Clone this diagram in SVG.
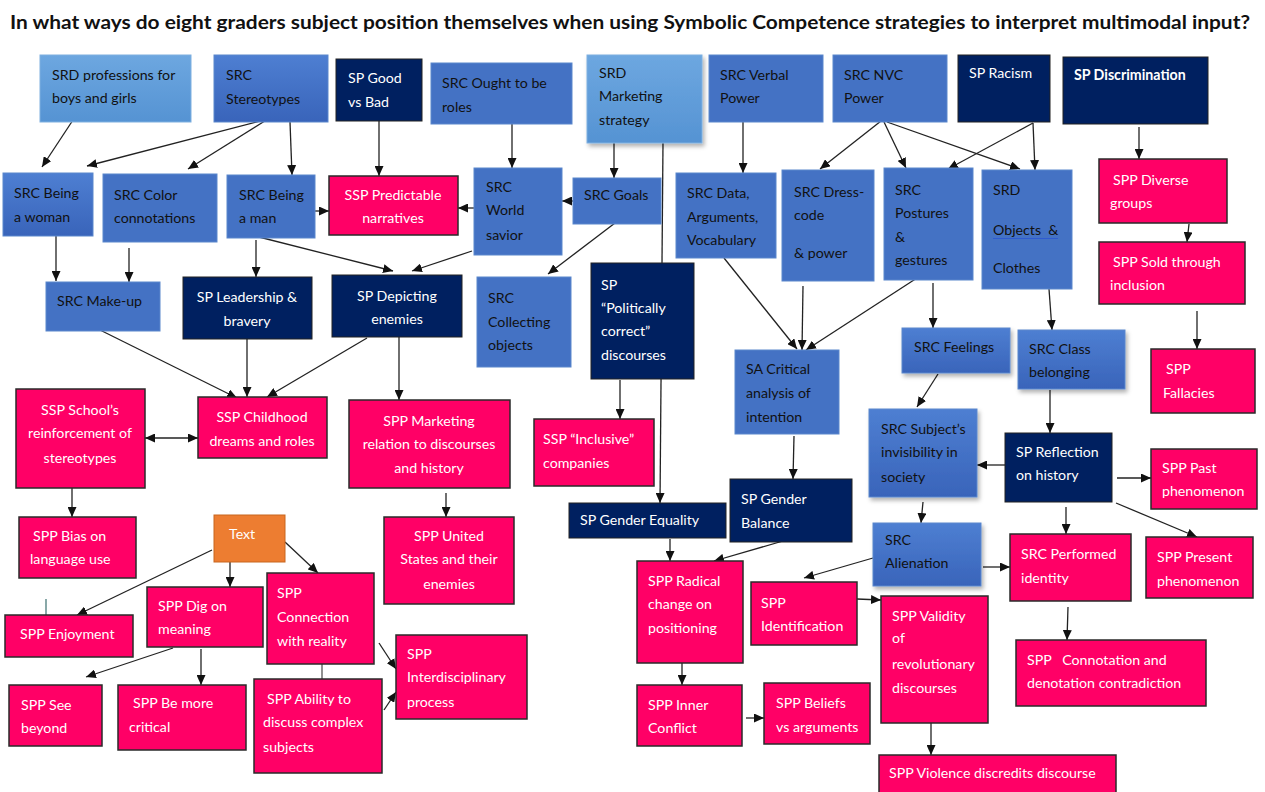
<svg xmlns="http://www.w3.org/2000/svg" width="1265" height="792" viewBox="0 0 1265 792">
<defs>
<style>
text{font-family:Lato,"Open Sans","Liberation Sans",sans-serif;font-size:14.2px}
.title{font-weight:bold;font-size:19px;fill:#111}
.d{fill:#111}
.w{fill:#fff}
.c{text-anchor:middle}
.blue{fill:#4472C4;stroke:#5B87CC;stroke-width:1}
.bg{fill:url(#gBlue);stroke:#5B87CC;stroke-width:1}
.lt{fill:url(#gLight);stroke:#7FB0E0;stroke-width:1}
.navy{fill:#002060;stroke:#222;stroke-width:1}
.pink{fill:#FF0066;stroke:#2a2a2a;stroke-width:1.5}
.orange{fill:#ED7D31;stroke:#C8661F;stroke-width:1}
.sh{filter:url(#shadow)}
#connectors line{stroke:#222;stroke-width:1.3;marker-end:url(#arr)}
#connectors line.plain{marker-end:none;stroke:#555}
#connectors line.both{marker-start:url(#arr)}
</style>
<linearGradient id="gBlue" x1="0" y1="0" x2="0" y2="1">
<stop offset="0" stop-color="#4E7FD2"/><stop offset="1" stop-color="#3964BA"/>
</linearGradient>
<linearGradient id="gLight" x1="0" y1="0" x2="0" y2="1">
<stop offset="0" stop-color="#6DA7E0"/><stop offset="1" stop-color="#5593D3"/>
</linearGradient>
<filter id="shadow" x="-10%" y="-10%" width="130%" height="130%">
<feDropShadow dx="2" dy="3" stdDeviation="2" flood-color="#000" flood-opacity="0.3"/>
</filter>
<marker id="arr" markerUnits="userSpaceOnUse" markerWidth="10" markerHeight="9" refX="10" refY="4.5" orient="auto-start-reverse">
<path d="M0,0 L10,4.5 L0,9 z" fill="#111"/>
</marker>
</defs>
<rect width="1265" height="792" fill="#fff"/>
<text class="title" x="10" y="29" textLength="1240" lengthAdjust="spacingAndGlyphs">In what ways do eight graders subject position themselves when using Symbolic Competence strategies to interpret multimodal input?</text>

<g id="connectors">
<line x1="73" y1="120" x2="42" y2="167"/>
<line x1="268" y1="119" x2="87" y2="166"/>
<line x1="268" y1="119" x2="188" y2="169"/>
<line x1="290" y1="122" x2="292" y2="175"/>
<line x1="56" y1="236" x2="56" y2="281"/>
<line x1="129" y1="248" x2="129" y2="282"/>
<line x1="315" y1="211" x2="329" y2="211"/>
<line x1="255" y1="236" x2="393" y2="271"/>
<line x1="256" y1="240" x2="256" y2="277"/>
<line x1="379" y1="121" x2="379" y2="176"/>
<line x1="512" y1="124" x2="512" y2="168"/>
<line x1="614" y1="143" x2="614" y2="178"/>
<line x1="573" y1="201" x2="562" y2="201"/>
<line x1="474" y1="208" x2="458" y2="208"/>
<line x1="472" y1="251" x2="412" y2="271"/>
<line x1="615" y1="223" x2="548" y2="274"/>
<line x1="663" y1="143" x2="660" y2="503"/>
<line x1="743" y1="122" x2="743" y2="173"/>
<line x1="881" y1="121" x2="820" y2="169"/>
<line x1="884" y1="122" x2="906" y2="168"/>
<line x1="887" y1="122" x2="1020" y2="169"/>
<line x1="1033" y1="123" x2="948" y2="169"/>
<line x1="1033" y1="123" x2="1035" y2="170"/>
<line x1="1139" y1="127" x2="1139" y2="159"/>
<line x1="1189" y1="224" x2="1187" y2="242"/>
<line x1="1197" y1="311" x2="1197" y2="349"/>
<line x1="1049" y1="289" x2="1052" y2="330"/>
<line x1="724" y1="258" x2="797" y2="349"/>
<line x1="803" y1="286" x2="802" y2="350"/>
<line x1="917" y1="278" x2="806" y2="350"/>
<line x1="933" y1="283" x2="933" y2="328"/>
<line x1="938" y1="374" x2="917" y2="407"/>
<line x1="794" y1="436" x2="793" y2="479"/>
<line x1="923" y1="502" x2="921" y2="523"/>
<line x1="1050" y1="390" x2="1050" y2="433"/>
<line x1="1005" y1="465" x2="977" y2="465"/>
<line x1="1117" y1="478" x2="1151" y2="478"/>
<line x1="1116" y1="503" x2="1197" y2="537"/>
<line x1="1066" y1="507" x2="1066" y2="534"/>
<line x1="983" y1="567" x2="1010" y2="567"/>
<line x1="873" y1="558" x2="804" y2="578"/>
<line x1="1068" y1="607" x2="1067" y2="640"/>
<line x1="620" y1="380" x2="620" y2="419"/>
<line x1="399" y1="337" x2="399" y2="400"/>
<line x1="367" y1="338" x2="267" y2="397"/>
<line x1="247" y1="339" x2="247" y2="397"/>
<line x1="98" y1="329" x2="237" y2="398"/>
<line class="both" x1="145" y1="438" x2="198" y2="438"/>
<line x1="72" y1="488" x2="72" y2="517"/>
<line x1="446" y1="493" x2="446" y2="517"/>
<line x1="670" y1="539" x2="670" y2="561"/>
<line x1="783" y1="541" x2="714" y2="561"/>
<line x1="682" y1="663" x2="682" y2="685"/>
<line x1="746" y1="718" x2="764" y2="718"/>
<line x1="857" y1="599" x2="881" y2="600"/>
<line x1="931" y1="723" x2="931" y2="755"/>
<line x1="212" y1="550" x2="77" y2="615"/>
<line x1="230" y1="562" x2="230" y2="587"/>
<line x1="285" y1="542" x2="318" y2="573"/>
<line x1="173" y1="648" x2="86" y2="677"/>
<line x1="201" y1="649" x2="201" y2="685"/>
<line x1="379" y1="643" x2="396" y2="669"/>
<line x1="384" y1="710" x2="396" y2="692"/>
<line class="plain" x1="322" y1="664" x2="322" y2="679"/>
<line class="plain" x1="46" y1="599" x2="46" y2="621" style="stroke:#4a7a7a"/>
</g>

<g id="srd-professions"><rect class="lt" x="40" y="55" width="151" height="67"/><text class="d" x="52" y="80">SRD professions for</text><text class="d" x="52" y="103">boys and girls</text></g>
<g id="src-stereotypes"><rect class="bg" x="214" y="55" width="114" height="67"/><text class="d" x="226" y="80">SRC</text><text class="d" x="226" y="104">Stereotypes</text></g>
<g id="sp-good-bad"><rect class="navy" x="336" y="59" width="86" height="62"/><text class="w" x="348" y="83">SP Good</text><text class="w" x="348" y="107">vs Bad</text></g>
<g id="src-ought"><rect class="blue" x="431" y="63" width="141" height="61"/><text class="d" x="442" y="88">SRC Ought to be</text><text class="d" x="442" y="112">roles</text></g>
<g id="srd-marketing"><rect class="lt sh" x="587" y="55" width="115" height="88"/><text class="d" x="599" y="78">SRD</text><text class="d" x="599" y="101">Marketing</text><text class="d" x="599" y="125">strategy</text></g>
<g id="src-verbal"><rect class="blue" x="709" y="55" width="114" height="67"/><text class="d" x="720" y="80">SRC Verbal</text><text class="d" x="720" y="103">Power</text></g>
<g id="src-nvc"><rect class="blue" x="833" y="55" width="114" height="67"/><text class="d" x="844" y="80">SRC NVC</text><text class="d" x="844" y="103">Power</text></g>
<g id="sp-racism"><rect class="navy" x="958" y="55" width="92" height="67"/><text class="w" x="969" y="78">SP Racism</text></g>
<g id="sp-discrimination"><rect class="navy" x="1063" y="57" width="145" height="67"/><text class="w" x="1074" y="80" style="font-weight:bold">SP Discrimination</text></g>

<g id="src-woman"><rect class="bg" x="3" y="173" width="90" height="63"/><text class="d" x="14" y="198">SRC Being</text><text class="d" x="14" y="222">a woman</text></g>
<g id="src-color"><rect class="blue" x="103" y="174" width="114" height="68"/><text class="d" x="114" y="200">SRC Color</text><text class="d" x="114" y="223">connotations</text></g>
<g id="src-man"><rect class="blue" x="227" y="175" width="88" height="63"/><text class="d" x="239" y="200">SRC Being</text><text class="d" x="239" y="223">a man</text></g>
<g id="ssp-predictable"><rect class="pink" x="329" y="176" width="129" height="59"/><text class="w c" x="393" y="200">SSP Predictable</text><text class="w c" x="393" y="223">narratives</text></g>
<g id="src-world"><rect class="blue" x="474" y="168" width="88" height="87"/><text class="d" x="486" y="192">SRC</text><text class="d" x="486" y="215">World</text><text class="d" x="486" y="240">savior</text></g>
<g id="src-goals"><rect class="blue" x="573" y="178" width="88" height="46"/><text class="d" x="584" y="200">SRC Goals</text></g>
<g id="src-data"><rect class="blue" x="676" y="173" width="100" height="85"/><text class="d" x="687" y="198">SRC Data,</text><text class="d" x="687" y="222">Arguments,</text><text class="d" x="687" y="245">Vocabulary</text></g>
<g id="src-dress"><rect class="blue" x="782" y="170" width="92" height="111"/><text class="d" x="794" y="197">SRC Dress-</text><text class="d" x="794" y="220">code</text><text class="d" x="794" y="258">&amp; power</text></g>
<g id="src-postures"><rect class="blue" x="884" y="168" width="89" height="112"/><text class="d" x="895" y="195">SRC</text><text class="d" x="895" y="218">Postures</text><text class="d" x="895" y="242">&amp;</text><text class="d" x="895" y="265">gestures</text></g>
<g id="srd-objects"><rect class="blue" x="982" y="170" width="90" height="119"/><text class="d" x="993" y="195">SRD</text><text class="d" x="993" y="235" xml:space="preserve">Objects  &amp;</text><line x1="993" y1="238.5" x2="1058" y2="238.5" stroke="#2F5BD0" stroke-width="1"/><text class="d" x="993" y="273">Clothes</text></g>
<g id="spp-diverse"><rect class="pink" x="1099" y="159" width="128" height="64"/><text class="w" x="1113" y="185">SPP Diverse</text><text class="w" x="1110" y="208">groups</text></g>
<g id="spp-sold"><rect class="pink" x="1099" y="242" width="146" height="62"/><text class="w" x="1113" y="267">SPP Sold through</text><text class="w" x="1110" y="290">inclusion</text></g>

<g id="src-makeup"><rect class="blue" x="46" y="282" width="114" height="49"/><text class="d" x="57" y="306">SRC Make-up</text></g>
<g id="sp-leadership"><rect class="navy" x="183" y="277" width="129" height="62"/><text class="w c" x="247" y="302">SP Leadership &amp;</text><text class="w c" x="247" y="326">bravery</text></g>
<g id="sp-depicting"><rect class="navy" x="332" y="275" width="130" height="62"/><text class="w c" x="397" y="301">SP Depicting</text><text class="w c" x="397" y="324">enemies</text></g>
<g id="src-collecting"><rect class="blue" x="477" y="277" width="94" height="90"/><text class="d" x="488" y="303">SRC</text><text class="d" x="488" y="327">Collecting</text><text class="d" x="488" y="350">objects</text></g>
<g id="sp-politically"><rect class="navy" x="591" y="263" width="103" height="116"/><text class="w" x="601" y="290">SP</text><text class="w" x="601" y="313">“Politically</text><text class="w" x="601" y="336">correct”</text><text class="w" x="601" y="360">discourses</text></g>
<g id="sa-critical"><rect class="blue" x="735" y="350" width="104" height="84"/><text class="d" x="746" y="374">SA Critical</text><text class="d" x="746" y="398">analysis of</text><text class="d" x="746" y="422">intention</text></g>
<g id="src-feelings"><rect class="bg sh" x="902" y="328" width="108" height="45"/><text class="d" x="914" y="352">SRC Feelings</text></g>
<g id="src-class"><rect class="bg sh" x="1018" y="330" width="107" height="59"/><text class="d" x="1029" y="354">SRC Class</text><text class="d" x="1029" y="377">belonging</text></g>
<g id="spp-fallacies"><rect class="pink" x="1151" y="349" width="104" height="64"/><text class="w" x="1166" y="374">SPP</text><text class="w" x="1163" y="398">Fallacies</text></g>

<g id="ssp-school"><rect class="pink" x="16" y="389" width="129" height="99"/><text class="w c" x="80" y="415">SSP School’s</text><text class="w c" x="80" y="438">reinforcement of</text><text class="w c" x="80" y="463">stereotypes</text></g>
<g id="ssp-childhood"><rect class="pink" x="198" y="397" width="129" height="61"/><text class="w c" x="262" y="422">SSP Childhood</text><text class="w c" x="262" y="446">dreams and roles</text></g>
<g id="spp-marketing"><rect class="pink" x="349" y="400" width="161" height="88"/><text class="w c" x="429" y="426">SPP Marketing</text><text class="w c" x="429" y="449">relation to discourses</text><text class="w c" x="429" y="473">and history</text></g>
<g id="ssp-inclusive"><rect class="pink" x="534" y="419" width="120" height="67"/><text class="w" x="543" y="444">SSP “Inclusive”</text><text class="w" x="543" y="468">companies</text></g>
<g id="src-subject"><rect class="bg sh" x="869" y="409" width="108" height="88"/><text class="d" x="881" y="434">SRC Subject’s</text><text class="d" x="881" y="457">invisibility in</text><text class="d" x="881" y="482">society</text></g>
<g id="sp-reflection"><rect class="navy" x="1005" y="433" width="107" height="69"/><text class="w" x="1016" y="457">SP Reflection</text><text class="w" x="1016" y="480">on history</text></g>
<g id="spp-past"><rect class="pink" x="1151" y="449" width="106" height="60"/><text class="w" x="1162" y="473">SPP Past</text><text class="w" x="1162" y="496">phenomenon</text></g>

<g id="spp-bias"><rect class="pink" x="19" y="517" width="117" height="61"/><text class="w" x="33" y="541">SPP Bias on</text><text class="w" x="30" y="564">language use</text></g>
<g id="text-node"><rect class="orange" x="214" y="515" width="71" height="47"/><text class="w" x="229" y="539">Text</text></g>
<g id="spp-united"><rect class="pink" x="384" y="517" width="130" height="87"/><text class="w c" x="449" y="541">SPP United</text><text class="w c" x="449" y="564">States and their</text><text class="w c" x="449" y="589">enemies</text></g>
<g id="sp-equality"><rect class="navy" x="569" y="503" width="157" height="35"/><text class="w" x="580" y="525">SP Gender Equality</text></g>
<g id="sp-balance"><rect class="navy" x="730" y="479" width="122" height="63"/><text class="w" x="741" y="504">SP Gender</text><text class="w" x="741" y="528">Balance</text></g>
<g id="src-alienation"><rect class="bg sh" x="873" y="523" width="108" height="63"/><text class="d" x="885" y="545">SRC</text><text class="d" x="885" y="568">Alienation</text></g>
<g id="src-performed"><rect class="pink" x="1010" y="534" width="121" height="67"/><text class="w" x="1021" y="559">SRC Performed</text><text class="w" x="1021" y="583">identity</text></g>
<g id="spp-present"><rect class="pink" x="1146" y="537" width="107" height="61"/><text class="w" x="1157" y="562">SPP Present</text><text class="w" x="1157" y="586">phenomenon</text></g>

<g id="spp-enjoyment"><rect class="pink" x="5" y="615" width="128" height="42"/><text class="w" x="20" y="639">SPP Enjoyment</text></g>
<g id="spp-dig"><rect class="pink" x="147" y="587" width="116" height="60"/><text class="w" x="158" y="611">SPP Dig on</text><text class="w" x="158" y="634">meaning</text></g>
<g id="spp-connection"><rect class="pink" x="267" y="573" width="107" height="91"/><text class="w" x="277" y="598">SPP</text><text class="w" x="277" y="622">Connection</text><text class="w" x="277" y="646">with reality</text></g>
<g id="spp-see"><rect class="pink" x="9" y="685" width="93" height="61"/><text class="w" x="21" y="710">SPP See</text><text class="w" x="21" y="733">beyond</text></g>
<g id="spp-critical"><rect class="pink" x="118" y="685" width="128" height="65"/><text class="w" x="133" y="708">SPP Be more</text><text class="w" x="129" y="732">critical</text></g>
<g id="spp-ability"><rect class="pink" x="254" y="679" width="128" height="94"/><text class="w" x="267" y="704">SPP Ability to</text><text class="w" x="263" y="727">discuss complex</text><text class="w" x="263" y="752">subjects</text></g>
<g id="spp-interdisciplinary"><rect class="pink" x="396" y="635" width="131" height="84"/><text class="w" x="407" y="659">SPP</text><text class="w" x="407" y="682">Interdisciplinary</text><text class="w" x="407" y="707">process</text></g>
<g id="spp-radical"><rect class="pink" x="637" y="561" width="106" height="102"/><text class="w" x="648" y="586">SPP Radical</text><text class="w" x="648" y="609">change on</text><text class="w" x="648" y="633">positioning</text></g>
<g id="spp-identification"><rect class="pink" x="751" y="582" width="106" height="63"/><text class="w" x="761" y="608">SPP</text><text class="w" x="761" y="631">Identification</text></g>
<g id="spp-validity"><rect class="pink" x="881" y="596" width="107" height="127"/><text class="w" x="892" y="621">SPP Validity</text><text class="w" x="892" y="643">of</text><text class="w" x="892" y="669">revolutionary</text><text class="w" x="892" y="693">discourses</text></g>
<g id="spp-inner"><rect class="pink" x="637" y="685" width="105" height="61"/><text class="w" x="648" y="710">SPP Inner</text><text class="w" x="648" y="733">Conflict</text></g>
<g id="spp-beliefs"><rect class="pink" x="764" y="683" width="106" height="61"/><text class="w" x="776" y="708">SPP Beliefs</text><text class="w" x="776" y="732">vs arguments</text></g>
<g id="spp-connotation"><rect class="pink" x="1016" y="640" width="190" height="66"/><text class="w" x="1027" y="665" xml:space="preserve">SPP   Connotation and</text><text class="w" x="1027" y="688">denotation contradiction</text></g>
<g id="spp-violence"><rect class="pink" x="879" y="755" width="237" height="42"/><text class="w" x="889" y="778">SPP Violence discredits discourse</text></g>
</svg>
